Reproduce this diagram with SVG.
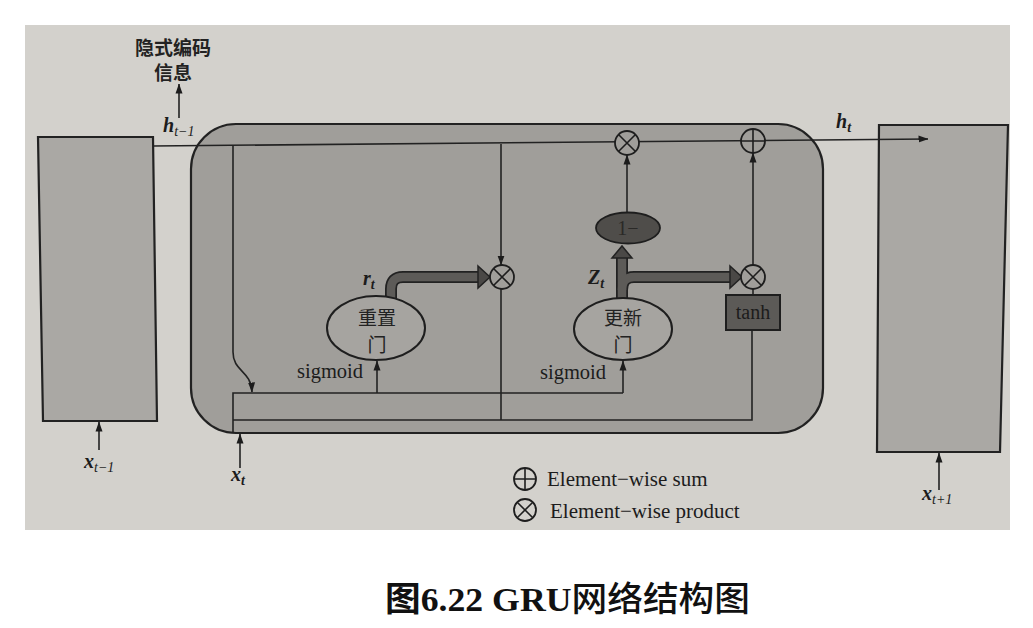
<svg xmlns="http://www.w3.org/2000/svg" width="1033" height="628" viewBox="0 0 1033 628">
<defs>
<marker id="ah" viewBox="0 0 10 10" refX="9.5" refY="5" markerWidth="10" markerHeight="10" markerUnits="userSpaceOnUse" orient="auto"><path d="M0,1.5 L10,5 L0,8.5 z" fill="#1c1c1c"/></marker>
<style>
.ln{fill:none;stroke:#222;stroke-width:1.6}
.bx{stroke:#222;stroke-width:2.2}
.lab{font-family:"Liberation Serif",serif;fill:#1c1c1c}
.cjk{font-family:"Noto Sans CJK SC",sans-serif;fill:#222}
.op{fill:#a09e9a;stroke:#1e1e1e;stroke-width:1.8}
.opl{fill:none;stroke:#1e1e1e;stroke-width:1.6}
.tko{fill:none;stroke:#222;stroke-width:12}
.tki{fill:none;stroke:#5d5b58;stroke-width:8.5}
.gate{fill:#a6a4a0;stroke:#1e1e1e;stroke-width:2}
</style>
</defs>
<rect width="1033" height="628" fill="#ffffff"/>
<rect id="photo" x="25" y="25" width="985" height="505" fill="#d3d1cc"/>

<g id="left-cell">
<polygon class="bx" points="38,137 153,137 157,421 43,421" fill="#aaa8a4"/>
</g>
<g id="right-cell">
<polygon class="bx" points="879,125 1008,125 1000,452 877,452" fill="#aaa8a4"/>
</g>
<g id="gru-cell">
<rect class="bx" x="191" y="124" width="632" height="309" rx="45" ry="45" fill="#a09e9a"/>
</g>

<g id="connectors">
<line class="ln" x1="153" y1="146" x2="928" y2="139" marker-end="url(#ah)"/>
<line class="ln" x1="179" y1="118" x2="179" y2="84" marker-end="url(#ah)"/>
<line class="ln" x1="99" y1="450" x2="99" y2="422" marker-end="url(#ah)"/>
<line class="ln" x1="240" y1="468" x2="240" y2="434" marker-end="url(#ah)"/>
<line class="ln" x1="939" y1="490" x2="939" y2="453" marker-end="url(#ah)"/>
<path class="ln" d="M233,146 V352 C233,372 251,370 252,392" marker-end="url(#ah)"/>
<path class="ln" d="M233,433 V393 H623"/>
<line class="ln" x1="623" y1="393" x2="623" y2="361" marker-end="url(#ah)"/>
<line class="ln" x1="377" y1="393" x2="377" y2="361" marker-end="url(#ah)"/>
<path class="ln" d="M233,420 H752 V330"/>
<line class="ln" x1="501" y1="289" x2="501" y2="420"/>
<line class="ln" x1="501" y1="144" x2="501" y2="265" marker-end="url(#ah)"/>
<line class="ln" x1="627" y1="212" x2="627" y2="155" marker-end="url(#ah)"/>
<line class="ln" x1="753" y1="265" x2="753" y2="153" marker-end="url(#ah)"/>
<line class="ln" x1="753" y1="295" x2="753" y2="289"/>
<path class="tko" d="M391,300 V289 Q391,277 403,277 H479"/>
<path class="tki" d="M391,302 V289 Q391,277 403,277 H480"/>
<polygon points="478,266 490,277 478,288" fill="#4a4846" stroke="#222" stroke-width="1.5"/>
<path class="tko" d="M622,300 V258"/>
<path class="tko" d="M622,290 Q622,277 634,277 H731"/>
<path class="tki" d="M622,302 V256"/>
<path class="tki" d="M622,290 Q622,277 634,277 H732"/>
<polygon points="612,258 622,246 632,258" fill="#4a4846" stroke="#222" stroke-width="1.5"/>
<polygon points="730,266 742,277 730,288" fill="#4a4846" stroke="#222" stroke-width="1.5"/>
</g>

<g id="reset-gate">
<ellipse class="gate" cx="376" cy="328" rx="49" ry="32"/>
<text class="cjk" x="377" y="325" font-size="19" text-anchor="middle">重置</text>
<text class="cjk" x="377" y="352" font-size="19" text-anchor="middle">门</text>
</g>
<g id="update-gate">
<ellipse class="gate" cx="623" cy="329" rx="49" ry="31"/>
<text class="cjk" x="623" y="325" font-size="19" text-anchor="middle">更新</text>
<text class="cjk" x="623" y="352" font-size="19" text-anchor="middle">门</text>
</g>
<g id="one-minus">
<ellipse cx="628" cy="228" rx="32" ry="15.5" fill="#4f4d4a" stroke="#1e1e1e" stroke-width="1.8"/>
<text x="628" y="235" font-size="20" text-anchor="middle" font-family="'Liberation Serif',serif" style="fill:#2a2927">1−</text>
</g>
<g id="tanh">
<rect x="726" y="295" width="54" height="35" fill="#5c5a57" stroke="#1e1e1e" stroke-width="2"/>
<text class="lab" x="753" y="319" font-size="20" text-anchor="middle">tanh</text>
</g>
<g id="mul-reset">
<circle class="op" cx="502" cy="277" r="12"/>
<path class="opl" d="M493.5,268.5 L510.5,285.5 M510.5,268.5 L493.5,285.5"/>
</g>
<g id="mul-update">
<circle class="op" cx="753" cy="277" r="12"/>
<path class="opl" d="M744.5,268.5 L761.5,285.5 M761.5,268.5 L744.5,285.5"/>
</g>
<g id="mul-h">
<circle class="op" cx="627" cy="143" r="12"/>
<path class="opl" d="M618.5,134.5 L635.5,151.5 M635.5,134.5 L618.5,151.5"/>
</g>
<g id="add-h">
<circle class="op" cx="753" cy="141" r="12"/>
<path class="opl" d="M741,141 H765 M753,129 V153"/>
</g>

<g id="labels">
<text class="cjk" x="173" y="55" font-size="19" font-weight="bold" text-anchor="middle">隐式编码</text>
<text class="cjk" x="173" y="80" font-size="19" font-weight="bold" text-anchor="middle">信息</text>
<text class="lab" x="163" y="132" font-size="20" font-weight="bold" font-style="italic">h<tspan font-size="14" font-weight="normal" dy="4">t−1</tspan></text>
<text class="lab" x="836" y="128" font-size="20" font-weight="bold" font-style="italic">h<tspan font-size="14" dy="4">t</tspan></text>
<text class="lab" x="84" y="468" font-size="20" font-weight="bold" font-style="italic">x<tspan font-size="14" font-weight="normal" dy="4">t−1</tspan></text>
<text class="lab" x="231" y="481" font-size="20" font-weight="bold" font-style="italic">x<tspan font-size="14" dy="4">t</tspan></text>
<text class="lab" x="922" y="500" font-size="20" font-weight="bold" font-style="italic">x<tspan font-size="14" font-weight="normal" dy="4">t+1</tspan></text>
<text class="lab" x="363" y="285" font-size="20" font-weight="bold" font-style="italic">r<tspan font-size="14" dy="4">t</tspan></text>
<text class="lab" x="588" y="284" font-size="20" font-weight="bold" font-style="italic">Z<tspan font-size="14" dy="4">t</tspan></text>
<text class="lab" x="297" y="378" font-size="20.5">sigmoid</text>
<text class="lab" x="540" y="379" font-size="20.5">sigmoid</text>
</g>

<g id="legend">
<circle cx="525" cy="479" r="11" fill="none" stroke="#1e1e1e" stroke-width="1.8"/>
<path class="opl" d="M514,479 H536 M525,468 V490"/>
<text class="lab" x="547" y="486" font-size="21">Element−wise sum</text>
<circle cx="525" cy="510" r="11" fill="none" stroke="#1e1e1e" stroke-width="1.8"/>
<path class="opl" d="M517.2,502.2 L532.8,517.8 M532.8,502.2 L517.2,517.8"/>
<text class="lab" x="550" y="518" font-size="21">Element−wise product</text>
</g>

<g id="caption">
<text x="385" y="611" font-size="34" textLength="365" lengthAdjust="spacingAndGlyphs" font-family="'Liberation Serif','Noto Sans CJK SC',serif" fill="#111"><tspan font-weight="bold">图6.22 GRU</tspan><tspan font-weight="500">网络结构图</tspan></text>
</g>
</svg>
